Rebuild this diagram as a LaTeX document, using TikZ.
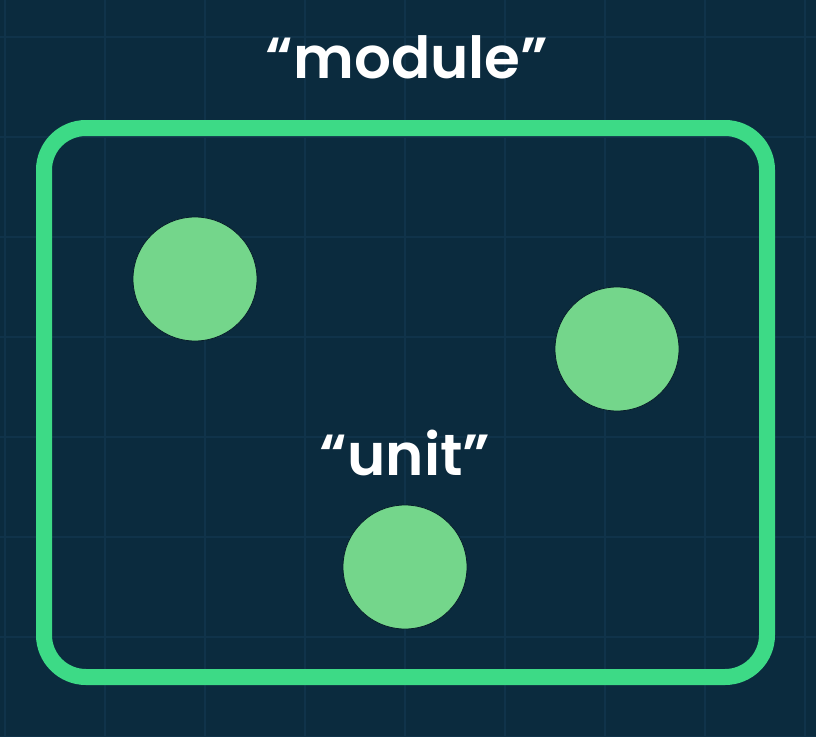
\documentclass[tikz,border=0pt]{standalone}
\usepackage{fontspec}
\setmainfont{Poppins}[UprightFont=* SemiBold]
\definecolor{navy}{HTML}{0B2B3E}
\definecolor{gridline}{HTML}{10334A}
\definecolor{frame}{HTML}{3DDA86}
\definecolor{dot}{HTML}{74D68B}
\tikzset{
  unit dot/.style={circle, fill=dot, draw=navy!70!black, line width=0.8pt, minimum size=124pt, inner sep=0pt},
  label text/.style={text=white, font=\fontsize{58}{62}\selectfont, anchor=base, inner sep=0pt}
}

\begin{document}
\begin{tikzpicture}[x=1pt, y=-1pt]
    \fill[navy] (0,0) rectangle (816,736);
    \useasboundingbox (0,0) rectangle (816,736);
    \foreach \gx in {5,105,...,805}
        \draw[gridline, line width=1.5pt] (\gx,0) -- (\gx,736);
    \foreach \gy in {37,137,...,737}
        \draw[gridline, line width=1.5pt] (0,\gy) -- (816,\gy);
    \draw[frame, line width=16pt, rounded corners=42pt] (44,128) rectangle (767,677);
    \node[label text] (module) at (407,78) {“module”};
    \node[label text] (unit) at (405,475) {“unit”};
    \node[unit dot] (dotA) at (195,279) {};
    \node[unit dot] (dotB) at (617,349) {};
    \node[unit dot] (dotC) at (405,567) {};
\end{tikzpicture}
\end{document}
